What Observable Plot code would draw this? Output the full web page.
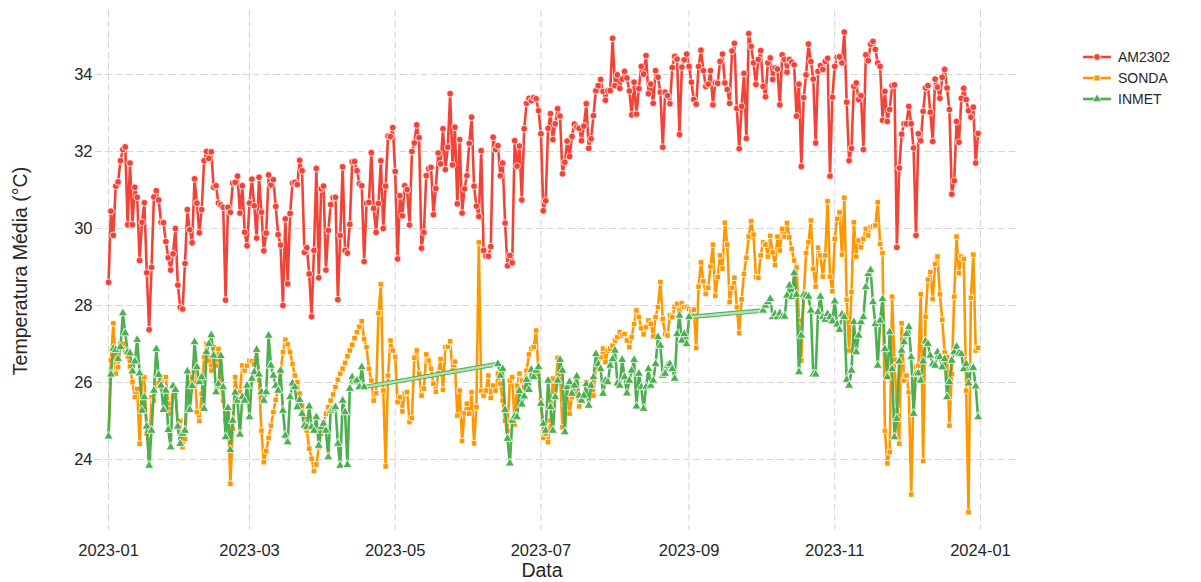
<!DOCTYPE html>
<html><head><meta charset="utf-8">
<script src="https://cdn.jsdelivr.net/npm/d3@7"></script>
<script src="https://cdn.jsdelivr.net/npm/@observablehq/plot@0.6"></script>
<style>
body{margin:0;background:#fff;font-family:"Liberation Sans",Arial,sans-serif;}
#wrap{position:relative;width:1201px;height:582px;overflow:hidden;}
#legend{position:absolute;left:1083px;top:46px;font-size:14px;color:#262626;}
.row{display:flex;align-items:center;height:21px;}
.row svg{margin-right:7px;}
.axlabel{position:absolute;font-size:19.5px;line-height:20px;color:#262626;white-space:nowrap;transform:translate(-50%,-50%);}
#ylab{left:20px;top:271px;transform:translate(-50%,-50%) rotate(-90deg);}
#xlab{left:542px;top:570px;}
</style></head><body><div id="wrap"><div id="legend"></div><div id="ylab" class="axlabel"></div><div id="xlab" class="axlabel"></div></div>
<script>
const startDate = "2023-01-01";
const seriesNames = ["AM2302", "SONDA", "INMET"];
const seriesColors = ["#F44336", "#FF9800", "#4CAF50"];
const seriesSymbols = ["circle", "square", "triangle"];
const xTickLabels = ["2023-01","2023-03","2023-05","2023-07","2023-09","2023-11","2024-01"];
const yTicks = [24, 26, 28, 30, 32, 34];
const xLabel = "Data";
const yLabel = "Temperatura Média (°C)";

// AM2302: daily from 2023-01-01
const am2302 = [
28.6,30.45,29.82,31.1,31.21,31.76,32.05,32.12,30.1,31.7,
30.1,31.07,30.81,29.17,30.16,30.67,28.85,27.37,28.99,30.82,
30.98,30.74,30.16,30.15,29.66,29.24,28.92,29.34,30.0,28.53,
27.95,27.91,29.09,30.49,29.97,29.63,31.29,30.66,29.89,30.49,
31.76,32.0,31.82,31.99,31.07,31.11,30.66,30.61,30.55,28.14,
30.55,30.42,31.18,31.2,31.36,30.4,31.11,29.9,29.55,30.66,
31.28,30.59,29.75,31.33,30.42,29.42,29.88,31.39,31.13,31.27,
30.57,29.84,29.57,28.0,30.25,28.56,30.39,31.18,31.2,31.14,
31.77,31.5,29.38,29.5,28.82,27.71,29.43,31.56,28.72,31.03,
31.1,28.92,29.95,30.62,30.8,30.81,28.15,29.82,31.6,29.43,
29.36,30.11,31.73,31.74,31.5,31.16,31.11,29.14,30.66,30.68,
31.97,30.52,29.9,30.65,31.76,30.0,31.1,32.4,32.39,32.62,
31.48,29.21,30.85,30.33,31.11,31.01,30.09,32.0,32.22,32.69,
32.36,29.49,29.9,31.37,31.56,31.59,30.36,31.04,31.96,31.68,
32.59,31.53,32.11,33.5,31.65,32.63,30.64,32.31,30.4,31.03,
31.37,32.21,32.89,31.1,30.58,30.31,32.02,29.43,29.28,29.28,
29.53,32.37,32.05,32.15,31.37,31.7,30.14,29.03,29.3,29.11,
32.28,31.62,32.14,30.74,32.59,33.25,33.38,33.32,33.4,33.37,
33.06,32.46,30.46,30.72,32.6,32.98,32.31,32.72,33.11,32.92,
31.42,31.72,32.27,31.87,32.39,32.71,32.63,32.6,32.28,32.66,
33.24,32.08,32.33,32.93,33.58,33.71,33.87,33.56,33.33,33.58,
33.58,34.94,33.71,33.99,33.64,33.88,34.08,33.91,33.57,32.95,
33.8,32.97,33.63,34.21,34.01,34.49,33.5,33.75,33.25,34.1,
33.93,33.54,32.11,33.54,33.45,33.24,34.18,34.47,34.4,32.44,
34.19,34.38,34.53,34.21,33.8,33.35,33.23,34.21,34.63,34.1,
33.69,33.75,34.1,33.21,33.78,33.77,34.34,34.53,33.78,33.61,
33.25,34.61,34.81,33.12,32.07,33.17,34.03,32.34,35.06,34.73,
34.3,33.74,34.39,34.62,33.69,33.42,34.3,34.43,33.87,34.17,
34.14,33.21,34.51,34.39,34.06,34.39,34.32,34.25,32.92,33.75,
31.61,33.4,33.99,34.79,34.34,33.88,32.22,34.08,34.23,34.13,
34.34,34.42,31.36,33.41,34.21,34.45,34.46,34.3,35.1,33.28,
31.76,32.08,33.69,33.78,33.35,33.45,32.05,34.51,34.36,34.79,
34.86,34.65,34.3,34.21,32.81,33.56,32.78,33.09,33.71,33.73,
29.51,31.57,32.45,32.72,32.72,33.17,32.72,32.09,29.82,32.46,
32.28,33.04,33.65,33.71,33.02,32.26,33.88,33.67,33.38,33.93,
34.13,33.65,33.09,30.89,31.24,32.78,32.24,33.38,33.64,33.35,
33.06,32.89,33.15,31.7,32.47
];

// SONDA: daily from 2023-01-01
const sonda = [
24.61,26.57,27.54,26.23,26.40,27.00,27.00,26.79,26.68,26.42,
26.01,25.62,25.83,24.41,26.14,26.14,24.67,24.08,25.62,25.53,
26.01,25.98,25.88,26.14,26.14,25.45,25.19,25.62,25.75,24.84,
25.00,24.32,24.54,25.62,25.88,26.14,26.50,25.23,25.00,25.71,
26.66,27.00,26.57,26.31,26.92,26.44,26.87,25.92,25.53,25.01,
25.19,23.37,24.80,26.14,25.71,25.75,26.44,26.31,26.44,26.57,
26.55,26.48,26.81,26.05,24.75,23.93,24.22,24.56,24.88,25.23,
25.55,25.84,26.27,26.79,27.11,26.99,26.79,26.48,26.18,26.01,
25.71,25.40,25.10,24.75,24.28,24.02,23.70,23.87,24.32,24.67,
24.97,25.19,25.36,25.53,25.69,25.88,26.07,26.23,26.36,26.51,
26.68,26.83,26.98,27.15,27.31,27.45,27.59,27.13,26.92,26.36,
26.05,25.53,25.72,27.80,28.55,25.79,23.82,26.18,27.09,26.83,
26.66,25.49,25.62,25.25,25.72,25.75,24.97,25.08,26.64,26.83,
26.23,25.66,25.84,26.73,26.57,26.36,25.97,25.76,26.24,26.61,
25.81,26.92,26.93,27.07,26.31,26.54,25.14,25.79,24.48,25.20,
25.45,25.19,25.75,24.42,25.36,29.64,25.78,25.66,25.79,26.18,
25.60,25.92,25.79,26.23,25.97,25.53,25.01,24.75,26.05,26.14,
24.91,25.92,26.23,26.05,25.88,26.31,26.73,26.88,26.92,27.35,
26.23,25.53,24.56,24.67,24.45,25.01,26.10,25.62,26.64,26.23,
24.84,25.45,25.88,25.19,25.62,25.92,25.71,25.38,25.53,25.62,
26.01,25.88,25.92,25.66,26.40,26.59,26.66,26.88,26.53,26.83,
26.88,26.96,27.09,27.18,27.31,27.22,27.26,27.09,26.92,27.18,
27.52,27.87,27.70,27.41,27.25,27.44,27.61,27.52,27.20,27.70,
27.96,28.61,27.65,27.26,27.22,27.74,27.70,27.97,28.04,27.87,
28.06,27.96,27.96,27.91,27.85,27.89,26.90,28.49,29.12,28.63,
28.30,28.46,29.01,29.58,28.25,28.74,29.30,28.96,30.15,29.58,
28.09,28.46,28.72,27.96,27.28,28.16,28.82,29.24,29.79,30.19,
29.84,28.74,28.72,29.30,29.64,29.58,29.27,29.81,29.38,29.05,
29.79,29.43,29.99,29.79,30.14,29.77,29.47,29.17,28.99,27.61,
26.57,28.22,29.36,29.64,30.21,28.95,28.49,29.50,29.30,28.75,
29.30,30.71,28.75,28.37,29.73,30.25,30.42,29.32,30.80,28.15,
26.83,28.35,30.16,29.27,29.69,29.51,29.73,29.99,29.82,30.03,
30.05,30.08,30.68,29.60,29.36,24.75,23.90,24.19,28.23,26.59,
25.27,24.41,27.54,26.05,26.18,25.75,23.09,25.79,26.40,26.44,
28.29,23.96,27.71,28.67,28.87,28.17,29.08,29.27,28.29,27.63,
26.79,26.66,24.88,26.22,28.23,29.79,28.84,29.27,29.21,25.79,
22.63,28.20,29.32,26.83,26.90
];

// INMET: three daily blocks, with missing stretches between them
const inmetStarts = ["2023-01-01", "2023-06-13", "2023-10-02"];
const inmetA = [
24.60,26.21,26.88,26.85,26.61,26.92,27.80,27.28,26.79,26.76,
26.29,26.55,27.11,26.24,25.27,25.62,24.86,23.84,24.75,25.79,
26.87,26.20,25.92,25.29,25.79,24.77,24.32,25.91,25.81,24.86,
24.41,24.67,24.75,26.29,25.29,25.91,27.05,26.40,26.01,26.14,
25.32,26.79,27.00,27.23,26.70,25.75,25.96,26.69,25.88,24.58,
25.34,24.25,25.01,25.74,25.53,24.65,25.62,25.53,25.92,25.10,
26.10,26.27,26.85,26.21,25.75,25.53,25.75,27.22,26.44,26.18,
25.92,25.79,26.31,25.27,24.62,24.45,25.62,25.98,25.88,25.36,
25.55,25.19,24.88,24.84,25.38,24.84,24.75,25.10,24.36,24.84,
24.93,24.75,24.06,25.27,25.32,25.36,24.41,23.84,25.53,25.23,
23.86,25.84,26.14,26.01,26.05,25.88,26.40,25.88
];
const inmetB = [
26.48,26.18,26.35,25.29,24.54,23.90,25.01,25.12,25.10,25.78,
25.43,25.64,26.07,25.81,26.33,26.14,26.31,26.40,25.45,
24.93,24.75,26.05,25.36,24.75,25.62,26.05,26.59,26.31,24.71,
25.88,26.01,25.71,25.92,26.16,25.66,25.53,25.66,25.96,25.40,
25.92,26.14,26.74,26.48,26.35,25.71,26.05,26.01,26.44,26.61,
26.83,25.98,25.92,26.59,26.14,25.72,26.05,26.31,26.59,25.38,
26.23,25.88,25.32,25.88,26.35,25.92,26.05,26.48,27.18,26.96,
26.18,26.23,26.44,26.48,26.35,26.10,27.26,27.74,27.09,27.26,
27.00,27.70
];
const inmetC = [
27.87,
28.00,28.09,28.17,27.70,27.78,27.70,27.80,27.70,27.71,28.26,
28.52,28.22,28.84,28.28,26.27,27.22,28.28,28.26,28.23,27.87,
26.21,26.21,27.83,28.23,27.70,27.63,27.78,27.70,
27.59,28.11,27.51,27.37,27.77,27.70,26.07,25.92,26.31,27.57,
26.79,27.22,27.57,27.70,28.48,28.82,28.92,28.09,27.52,26.44,
27.61,28.17,26.87,26.14,27.31,26.35,24.58,25.06,26.55,26.83,
27.05,27.26,27.44,26.66,25.19,26.22,26.24,26.05,26.55,27.07,
27.00,26.70,26.48,26.44,26.79,26.66,26.40,26.61,25.62,26.01,
26.57,26.79,26.93,26.76,26.74,26.35,26.48,25.98,26.35,26.38,
25.90,25.10
];

const toRecords = (values, startStr, name, block) => {
  const s = new Date(startStr + "T00:00:00Z");
  return values.map((v, i) => ({date: d3.utcDay.offset(s, i), value: v, series: name, block}));
};
const amData = toRecords(am2302, startDate, seriesNames[0], 0);
const sondaData = toRecords(sonda, startDate, seriesNames[1], 0);
const inmetBlocks = [inmetA, inmetB, inmetC].map((b, k) => toRecords(b, inmetStarts[k], seriesNames[2], k));
const inmetData = inmetBlocks.flat();
// connection across the missing stretches
const gapData = [];
for (let k = 0; k < inmetBlocks.length - 1; k++) {
  const a = inmetBlocks[k][inmetBlocks[k].length - 1], b = inmetBlocks[k + 1][0];
  gapData.push({...a, gap: k}, {...b, gap: k});
}
const xTickDates = xTickLabels.map(t => new Date(t + "-01T00:00:00Z"));

const seriesMarks = (data, i, z) => [
  Plot.line(data, {x: "date", y: "value", z, stroke: seriesColors[i], strokeWidth: 2.6, curve: "linear"}),
  Plot.dot(data, {x: "date", y: "value", symbol: seriesSymbols[i], r: i === 1 ? 3.1 : 3.4, fill: seriesColors[i], stroke: "white", strokeWidth: 0.8})
];

const chart = Plot.plot({
  width: 1201, height: 582,
  marginLeft: 95, marginRight: 183, marginTop: 10, marginBottom: 52,
  x: {type: "utc", domain: [new Date(Date.UTC(2022, 11, 26, 13)), new Date(Date.UTC(2024, 0, 16, 22))]},
  y: {domain: [22.156, 35.662]},
  style: {fontFamily: "'Liberation Sans', Arial, sans-serif", fontSize: "16.5px", color: "#262626", background: "white"},
  marks: [
    Plot.gridY(yTicks, {stroke: "#d6d6d6", strokeOpacity: 1, strokeWidth: 1.1, strokeDasharray: "7,3.5"}),
    Plot.gridX(xTickDates, {stroke: "#d6d6d6", strokeOpacity: 1, strokeWidth: 1.1, strokeDasharray: "7,3.5"}),
    Plot.axisY(yTicks, {tickSize: 0, tickPadding: 3, label: null, fontSize: 16.5}),
    Plot.axisX(xTickDates, {tickSize: 0, tickPadding: 14, label: null, fontSize: 16.5, tickFormat: (d, i) => xTickLabels[i]}),
    ...seriesMarks(amData, 0, null),
    ...seriesMarks(sondaData, 1, null),
    Plot.line(gapData, {x: "date", y: "value", z: "gap", stroke: seriesColors[2], strokeWidth: 4.5}),
    Plot.line(gapData, {x: "date", y: "value", z: "gap", stroke: "white", strokeWidth: 2.6, strokeOpacity: 0.6, strokeDasharray: "0.7,1.8"}),
    ...seriesMarks(inmetData, 2, "block")
  ]
});
document.getElementById("wrap").prepend(chart);
document.getElementById("xlab").textContent = xLabel;
document.getElementById("ylab").textContent = yLabel;

// legend
const legend = d3.select("#legend");
seriesNames.forEach((name, i) => {
  const row = legend.append("div").attr("class", "row");
  const svg = row.append("svg").attr("width", 28).attr("height", 12);
  svg.append("line").attr("x1", 0).attr("x2", 28).attr("y1", 6).attr("y2", 6).attr("stroke", seriesColors[i]).attr("stroke-width", 2.6);
  const sym = d3.symbol(i === 0 ? d3.symbolCircle : i === 1 ? d3.symbolSquare : d3.symbolTriangle, 36);
  svg.append("path").attr("d", sym()).attr("transform", "translate(14,6)").attr("fill", seriesColors[i]).attr("stroke", "white").attr("stroke-width", 0.8);
  row.append("span").text(name);
});
</script>
</body></html>
